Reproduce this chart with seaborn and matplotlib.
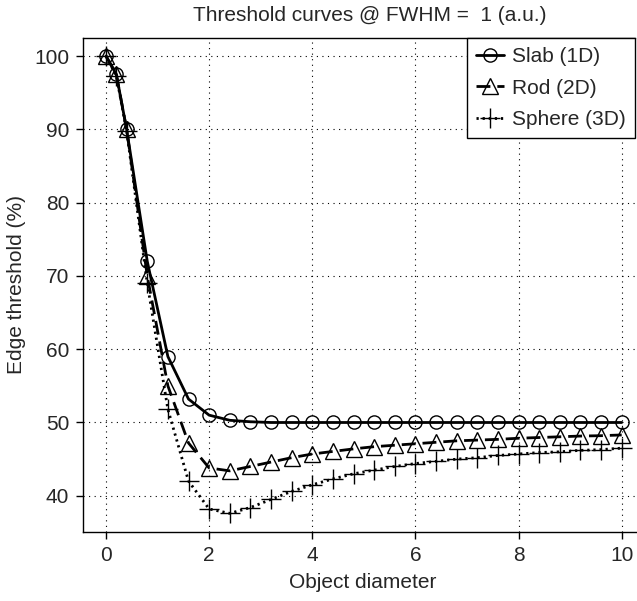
import numpy as np
import pandas as pd
import matplotlib
matplotlib.use("Agg")
import matplotlib.pyplot as plt
import seaborn as sns

diameter = [0.0, 0.2, 0.4, 0.8, 1.2, 1.6, 2.0, 2.4, 2.8, 3.2, 3.6, 4.0, 4.4, 4.8, 5.2,
            5.6, 6.0, 6.4, 6.8, 7.2, 7.6, 8.0, 8.4, 8.8, 9.2, 9.6, 10.0]

slab = [100, 97.5, 90, 72, 59, 53.2, 51, 50.3, 50.1, 50.0, 50.0, 50.0, 50.0, 50.0, 50.0,
        50.0, 50.0, 50.0, 50.0, 50.0, 50.0, 50.0, 50.0, 50.0, 50.0, 50.0, 50.0]
rod = [100, 97.5, 90, 70, 55, 47.2, 43.8, 43.4, 44.0, 44.6, 45.2, 45.7, 46.05, 46.4, 46.7,
       46.9, 47.1, 47.3, 47.5, 47.6, 47.7, 47.85, 47.95, 48.05, 48.15, 48.2, 48.3]
sphere = [100, 97.3, 89.8, 69, 51.8, 42.0, 38.2, 37.6, 38.4, 39.5, 40.6, 41.5, 42.3, 43.0, 43.5,
          44.0, 44.4, 44.7, 45.0, 45.2, 45.5, 45.7, 45.9, 46.0, 46.2, 46.3, 46.5]

labels = ["Slab (1D)", "Rod (2D)", "Sphere (3D)"]

sns.set_theme(style="ticks")
plt.rcParams['font.family'] = ['Liberation Sans', 'DejaVu Sans']

W, H = 637, 601
fig = plt.figure(figsize=(W / 100, H / 100), dpi=100)
# axes runs a bit past the right edge of the picture, like the original crop
ax = fig.add_axes([83 / W, 1 - 531.7 / H, (642.3 - 83) / W, (531.7 - 37.7) / H])

styles = [("-", "o", 9.5, 2.0), ((0, (5, 2.5)), "^", 12, 2.0), ((0, (0.8, 1.4)), "+", 14, 2.0)]
for vals, lab, (ls, mk, ms, lw) in zip([slab, rod, sphere], labels, styles):
    sns.lineplot(x=diameter, y=vals, ax=ax, color="black", linestyle=ls, linewidth=lw,
                 marker=mk, markersize=ms, markerfacecolor="none", markeredgecolor="black",
                 markeredgewidth=1.0, label=lab)

ax.set_xlim(-0.446, 10.4)
ax.set_ylim(35.1, 102.5)
ax.set_xticks([0, 2, 4, 6, 8, 10])
ax.set_yticks([40, 50, 60, 70, 80, 90, 100])
ax.grid(True, color="black", linestyle=(0, (1, 4)), linewidth=0.8)
for s in ax.spines.values():
    s.set_color("black")
    s.set_linewidth(1.0)
ax.spines["right"].set_visible(False)
ax.spines["top"].set_bounds(-0.446, 10.25)
ax.tick_params(axis="both", labelsize=15, length=5, width=1, color="black",
               direction="out", pad=5)

ax.set_xlabel("Object diameter", fontsize=15, labelpad=6)
ax.set_ylabel("Edge threshold (%)", fontsize=15, labelpad=6)
fig.text(0.58, 0.975, "Threshold curves @ FWHM =  1 (a.u.)", fontsize=15,
         ha="center", va="center")

leg = ax.legend(loc="upper right", bbox_to_anchor=(635 / W, 1 - 37.7 / H),
                bbox_transform=fig.transFigure, fontsize=15, frameon=True, fancybox=False,
                borderaxespad=0.0, handlelength=1.3, handletextpad=0.4,
                borderpad=0.45, labelspacing=0.6)
leg.get_frame().set_edgecolor("black")
leg.get_frame().set_linewidth(1.0)
leg.get_frame().set_alpha(1)

fig.savefig("out.png", dpi=100)
